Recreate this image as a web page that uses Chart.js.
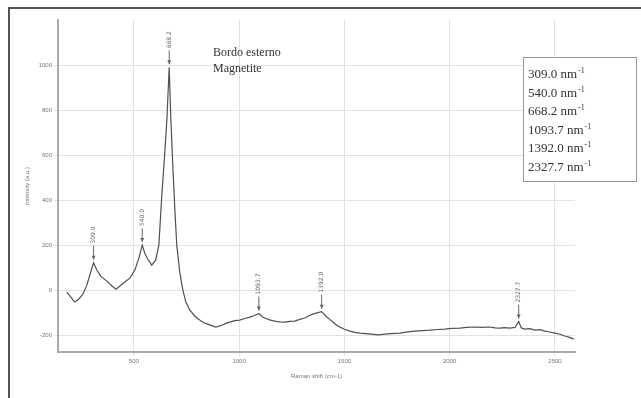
<!DOCTYPE html>
<html>
<head>
<meta charset="utf-8">
<script src="https://cdn.jsdelivr.net/npm/chart.js@4/dist/chart.umd.min.js"></script>
<style>
  html, body { margin: 0; padding: 0; background: #fff; }
  #wrap { width: 641px; height: 398px; position: relative; }
</style>
</head>
<body>
<div id="wrap"><canvas id="chart" width="641" height="398"></canvas></div>
<script>
// spectrum
const waveNumbers = [182, 201, 220, 239, 258, 277, 291, 309, 324, 343, 372, 396, 415, 434, 457, 481, 505, 524, 540, 552, 566, 585, 604, 619, 633, 647, 657, 668, 676, 685, 695, 704, 718, 733, 747, 766, 790, 813, 832, 851, 870, 889, 905, 918, 937, 956, 980, 1003, 1027, 1051, 1070, 1093.7, 1110, 1122, 1145, 1169, 1193, 1217, 1240, 1264, 1288, 1312, 1331, 1350, 1370, 1392, 1412, 1430, 1445, 1462, 1478, 1500, 1526, 1550, 1573, 1600, 1630, 1660, 1692, 1720, 1763, 1800, 1834, 1870, 1905, 1940, 1977, 2010, 2048, 2080, 2119, 2150, 2190, 2215, 2238, 2260, 2285, 2310, 2327.7, 2340, 2356, 2380, 2404, 2430, 2451, 2475, 2499, 2520, 2546, 2570, 2589];
const intensities = [-9, -31, -53, -40, -18, 22, 67, 122, 89, 62, 40, 18, 4, 18, 36, 53, 89, 142, 200, 164, 138, 111, 133, 200, 422, 609, 756, 990, 756, 556, 356, 200, 80, 0, -53, -89, -116, -133, -145, -151, -158, -164, -160, -156, -148, -142, -136, -133, -126, -120, -114, -104, -118, -124, -132, -138, -141, -142, -139, -138, -130, -124, -114, -107, -101, -96, -116, -130, -142, -155, -164, -174, -182, -188, -191, -193, -196, -199, -196, -193, -191, -186, -182, -180, -178, -175, -173, -170, -169, -166, -164, -166, -164, -168, -169, -167, -169, -166, -140, -168, -173, -171, -178, -176, -182, -186, -191, -195, -204, -210, -218];

const peakPositions = [309.0, 540.0, 668.2, 1093.7, 1392.0, 2327.7];
const peakHeights = [122, 200, 990, -104, -96, -140];
const peakLabels = ['309.0', '540.0', '668.2', '1093.7', '1392.0', '2327.7'];

const xTicks = [500, 1000, 1500, 2000, 2500];
const yTicks = [-200, 0, 200, 400, 600, 800, 1000];

const sampleLines = ['Bordo esterno', 'Magnetite'];
const boxLines = ['309.0', '540.0', '668.2', '1093.7', '1392.0', '2327.7'];

const points = waveNumbers.map((x, i) => ({ x: x, y: intensities[i] }));

// frame, peak arrows and the text boxes
const decorations = {
  id: 'decorations',
  beforeDraw(chart) {
    const ctx = chart.ctx;
    ctx.save();
    ctx.fillStyle = '#fff';
    ctx.fillRect(0, 0, chart.width, chart.height);
    ctx.strokeStyle = '#555';
    ctx.lineWidth = 2;
    ctx.beginPath();
    ctx.moveTo(9, 398);
    ctx.lineTo(9, 8);
    ctx.lineTo(641, 8);
    ctx.stroke();
    ctx.restore();
  },
  afterDatasetsDraw(chart) {
    const ctx = chart.ctx;
    const xs = chart.scales.x;
    const ys = chart.scales.y;
    ctx.save();

    // peak markers
    peakPositions.forEach((p, i) => {
      const px = xs.getPixelForValue(p);
      const py = ys.getPixelForValue(peakHeights[i]) - 3;
      ctx.strokeStyle = '#666';
      ctx.fillStyle = '#666';
      ctx.lineWidth = 1;
      ctx.beginPath();
      ctx.moveTo(px, py);
      ctx.lineTo(px, py - 14);
      ctx.stroke();
      ctx.beginPath();
      ctx.moveTo(px, py);
      ctx.lineTo(px - 2, py - 4);
      ctx.lineTo(px + 2, py - 4);
      ctx.closePath();
      ctx.fill();
      ctx.translate(px, py - 16);
      ctx.rotate(-Math.PI / 2);
      ctx.font = '6px "DejaVu Sans"';
      ctx.textAlign = 'left';
      ctx.textBaseline = 'middle';
      ctx.fillText(peakLabels[i], 0, 0);
      ctx.setTransform(1, 0, 0, 1, 0, 0);
    });

    // sample name
    ctx.fillStyle = '#333';
    ctx.font = '12px "Liberation Serif"';
    ctx.textAlign = 'left';
    ctx.textBaseline = 'alphabetic';
    sampleLines.forEach((t, i) => ctx.fillText(t, 213, 56 + i * 16));

    // band list box
    ctx.fillStyle = '#fff';
    ctx.fillRect(523, 57, 114, 124);
    ctx.strokeStyle = '#999';
    ctx.lineWidth = 1;
    ctx.strokeRect(523.5, 57.5, 113, 124);
    ctx.fillStyle = '#333';
    boxLines.forEach((t, i) => {
      const y = 78 + i * 18.6;
      ctx.font = '13px "Liberation Serif"';
      const w1 = ctx.measureText(t + ' nm').width;
      ctx.fillText(t + ' nm', 528, y);
      ctx.font = '8px "Liberation Serif"';
      ctx.fillText('-1', 528 + w1 + 1, y - 5);
    });
    ctx.restore();
  }
};

new Chart(document.getElementById('chart'), {
  type: 'line',
  data: {
    datasets: [{
      data: points,
      borderColor: '#505050',
      borderWidth: 1.2,
      pointRadius: 0,
      tension: 0,
      fill: false
    }]
  },
  options: {
    responsive: false,
    animation: false,
    layout: { padding: { left: 0, right: 66, top: 20, bottom: 14 } },
    plugins: { legend: { display: false }, tooltip: { enabled: false } },
    scales: {
      x: {
        type: 'linear',
        min: 140,
        max: 2595,
        afterBuildTicks: s => { s.ticks = xTicks.map(v => ({ value: v })); },
        afterFit: s => { s.height = 32; },
        grid: { color: '#e2e2e2', tickLength: 4, drawTicks: true },
        border: { color: '#aaa', width: 2 },
        ticks: { color: '#777', font: { size: 6 }, padding: 2, callback: v => String(v) },
        title: { display: true, text: 'Raman shift (cm-1)', color: '#777', font: { size: 6 }, padding: 4 }
      },
      y: {
        min: -275,
        max: 1200,
        afterBuildTicks: s => { s.ticks = yTicks.map(v => ({ value: v })); },
        afterFit: s => { s.width = 58; },
        grid: { color: '#e2e2e2', tickLength: 4 },
        border: { color: '#aaa', width: 2 },
        ticks: { color: '#777', font: { size: 6 }, padding: 2, callback: v => String(v) },
        title: { display: true, text: 'Intensity (a.u.)', color: '#777', font: { size: 6 }, padding: { top: 24, bottom: 0 } }
      }
    }
  },
  plugins: [decorations]
});
</script>
</body>
</html>
